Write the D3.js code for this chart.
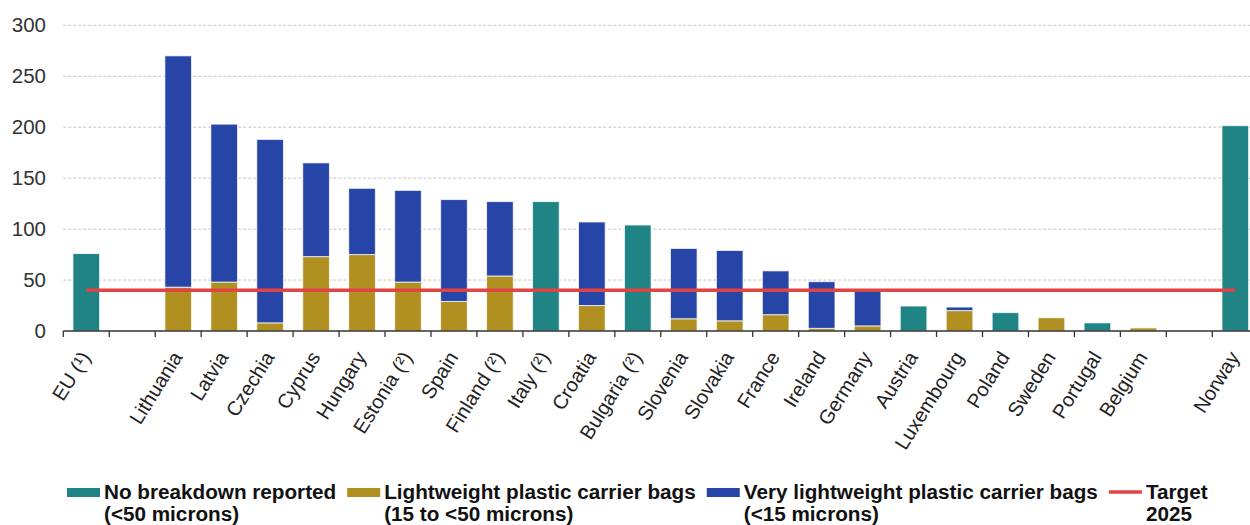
<!DOCTYPE html>
<html>
<head>
<meta charset="utf-8">
<script src="https://cdn.jsdelivr.net/npm/d3@7/dist/d3.min.js"></script>
<style>
  html, body { margin: 0; padding: 0; background: #fff; }
  svg { display: block; font-family: "Liberation Sans", Arial, sans-serif; }
</style>
</head>
<body>
<svg id="chart" width="1250" height="525"></svg>
<script>
// ---- Data ----
const categories = ["EU (\u00b9)", "", "Lithuania", "Latvia", "Czechia", "Cyprus", "Hungary",
  "Estonia (\u00b2)", "Spain", "Finland (\u00b2)", "Italy (\u00b2)", "Croatia", "Bulgaria (\u00b2)",
  "Slovenia", "Slovakia", "France", "Ireland", "Germany", "Austria", "Luxembourg", "Poland",
  "Sweden", "Portugal", "Belgium", "", "Norway"];
const noBreakdown = [76, 0, 0, 0, 0, 0, 0, 0, 0, 0, 127, 0, 104, 0, 0, 0, 0, 0, 24.5, 0, 18, 0, 8, 0, 0, 201.5];
const lightweight = [0, 0, 43, 48, 8, 73, 75, 48, 29, 54, 0, 25, 0, 12, 10, 16, 2.6, 5, 0, 20, 0, 13, 0, 3, 0, 0];
const veryLightweight = [0, 0, 227, 155, 180, 92, 65, 90, 100, 73, 0, 82, 0, 69, 69, 43, 45.8, 34, 0, 3.5, 0, 0, 0, 0, 0, 0];
const target = 40;
const yTicks = [0, 50, 100, 150, 200, 250, 300];
const seriesKeys = ["noBreakdown", "lightweight", "veryLightweight"];
const legendItems = [
  { key: "noBreakdown", lines: ["No breakdown reported", "(<50 microns)"] },
  { key: "lightweight", lines: ["Lightweight plastic carrier bags", "(15 to <50 microns)"] },
  { key: "veryLightweight", lines: ["Very lightweight plastic carrier bags", "(<15 microns)"] },
  { key: "target", lines: ["Target", "2025"] }
];
const colors = { noBreakdown: "#208484", lightweight: "#b09020", veryLightweight: "#2744a7", target: "#e24343" };

// ---- Layout ----
const svg = d3.select("#chart");
const plotLeft = 63.3, step = 45.96;
const x = d3.scaleBand().domain(d3.range(categories.length))
  .range([plotLeft, plotLeft + step * categories.length]).paddingInner(0.42).paddingOuter(0.21);
const y = d3.scaleLinear().domain([0, 300]).range([331, 25.3]);
const plotRight = 1250;

const rows = categories.map((c, i) => ({ i, noBreakdown: noBreakdown[i], lightweight: lightweight[i], veryLightweight: veryLightweight[i] }));

// gridlines
svg.append("g").selectAll("line").data(yTicks.filter(t => t > 0)).join("line")
  .attr("x1", plotLeft).attr("x2", plotRight)
  .attr("y1", d => y(d)).attr("y2", d => y(d))
  .attr("stroke", "#c4c4c4").attr("stroke-width", 1).attr("stroke-dasharray", "3,2");

// y labels
svg.append("g").selectAll("text").data(yTicks).join("text")
  .attr("x", 46).attr("y", d => y(d)).attr("dy", "0.35em")
  .attr("text-anchor", "end").attr("font-size", 20.5).attr("fill", "#333")
  .text(d => d);

// bars
const stack = d3.stack().keys(seriesKeys)(rows);
svg.append("g").selectAll("g").data(stack).join("g")
  .attr("fill", d => colors[d.key])
  .selectAll("rect").data(d => d.filter(p => p[1] - p[0] > 0)).join("rect")
  .attr("x", d => x(d.data.i)).attr("width", x.bandwidth())
  .attr("y", d => y(d[1])).attr("height", d => y(d[0]) - y(d[1]))
  .attr("stroke", "#fff").attr("stroke-opacity", 0.75).attr("stroke-width", 1);

// axis line + ticks
const axisY = y(0);
svg.append("line").attr("x1", plotLeft).attr("x2", plotRight).attr("y1", axisY).attr("y2", axisY)
  .attr("stroke", "#333").attr("stroke-width", 1.6);
svg.append("g").selectAll("line").data(d3.range(categories.length + 1)).join("line")
  .attr("x1", i => plotLeft + i * step).attr("x2", i => plotLeft + i * step)
  .attr("y1", axisY).attr("y2", axisY + 6)
  .attr("stroke", "#333").attr("stroke-width", 1.3);

// x labels
svg.append("g").selectAll("text").data(categories.map((c, i) => ({ c, i })).filter(d => d.c)).join("text")
  .attr("transform", d => `translate(${x(d.i) + x.bandwidth() / 2 + 5},357) rotate(-58)`)
  .attr("text-anchor", "end").attr("font-size", 20).attr("fill", "#222")
  .text(d => d.c);

// target line
const tx1 = x(0) + x.bandwidth() / 2, tx2 = x(categories.length - 1) + x.bandwidth() / 2;
svg.append("line").attr("x1", tx1).attr("x2", tx2).attr("y1", y(target)).attr("y2", y(target))
  .attr("stroke", colors.target).attr("stroke-width", 3.6);

// legend
let lx = 67;
const legend = svg.append("g");
legendItems.forEach(item => {
  const g = legend.append("g");
  if (item.key === "target") {
    g.append("line").attr("x1", lx).attr("x2", lx + 33).attr("y1", 492).attr("y2", 492)
      .attr("stroke", colors.target).attr("stroke-width", 3.6);
  } else {
    g.append("rect").attr("x", lx).attr("y", 488).attr("width", 33).attr("height", 9)
      .attr("fill", colors[item.key]);
  }
  let maxW = 0;
  item.lines.forEach((ln, k) => {
    const t = g.append("text").attr("x", lx + 37).attr("y", 498.5 + k * 22.5)
      .attr("font-size", 20.7).attr("font-weight", "bold").attr("fill", "#111").text(ln);
    maxW = Math.max(maxW, t.node().getComputedTextLength());
  });
  lx = lx + 37 + maxW + 11;
});
</script>
</body>
</html>
